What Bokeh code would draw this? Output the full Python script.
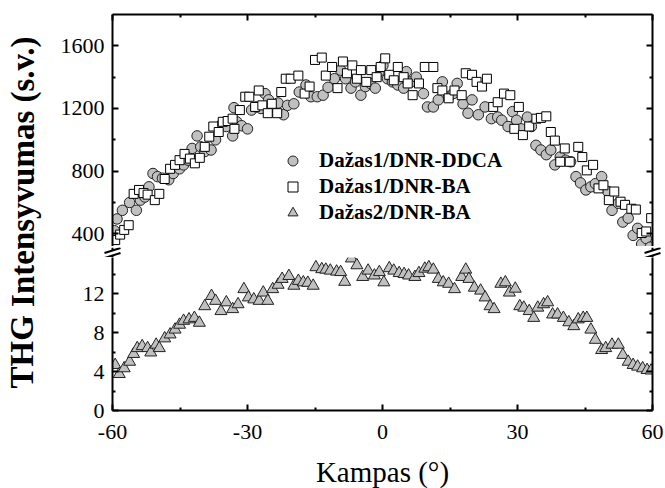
from bokeh.plotting import figure
from bokeh.models import (Range1d, LinearAxis, FixedTicker, Legend, LegendItem,
                          Label, CustomJSTickFormatter)
from bokeh.layouts import row, column
from bokeh.embed import file_html
from bokeh.resources import INLINE

# Dažas1/DNR-DDCA (circles, upper panel)
angle_ddca = [-59.6, -59.0, -57.8, -56.2, -54.7, -53.8, -52.8, -51.9, -51.0, -50.0,
              -48.9, -47.5, -46.5, -45.1, -44.2, -43.2, -42.3, -41.2, -40.4, -39.5,
              -38.1, -37.1, -35.7, -34.7, -33.3, -33.0, -32.4, -31.3, -30.0, -29.1,
              -28.1, -27.0, -26.1, -25.3, -24.4, -23.2, -22.0, -21.1, -19.7, -18.5,
              -17.0, -15.9, -14.5, -13.2, -12.1, -10.7, -9.3, -8.2, -7.0, -6.0,
              -4.8, -3.8, -2.7, -1.6, -0.8, 0.1, 1.1, 2.2, 3.4, 4.7,
              5.3, 6.3, 7.5, 9.1, 10.0, 11.3, 12.4, 13.3, 14.7, 15.7,
              16.6, 17.9, 19.0, 19.9, 21.3, 22.8, 24.2, 25.6, 26.5, 27.9,
              28.9, 29.8, 30.8, 32.2, 33.1, 34.1, 35.2, 36.4, 37.4, 38.3,
              39.5, 40.7, 41.8, 43.0, 44.0, 45.2, 46.3, 47.3, 48.7, 50.1,
              51.0, 52.4, 53.4, 54.6, 55.7, 56.7, 57.6, 58.6, 59.5]
thg_ddca = [420, 495, 550, 600, 550, 615, 635, 700, 785, 765,
            755, 745, 785, 815, 840, 870, 945, 1025, 955, 925,
            935, 1000, 1100, 1085, 1025, 1205, 1115, 1090, 1070, 1190,
            1210, 1200, 1295, 1255, 1210, 1235, 1160, 1220, 1230, 1305,
            1350, 1275, 1275, 1285, 1335, 1390, 1445, 1390, 1330, 1370,
            1285, 1340, 1360, 1330, 1435, 1475, 1390, 1370, 1350, 1330,
            1435, 1370, 1400, 1295, 1210, 1210, 1255, 1370, 1275, 1295,
            1360, 1230, 1170, 1255, 1160, 1210, 1135, 1145, 1125, 1085,
            1180, 1125, 1070, 1145, 1085, 965, 935, 905, 935, 840,
            890, 870, 860, 765, 725, 680, 700, 720, 765, 670,
            550, 595, 475, 500, 390, 435, 335, 370, 315]

# Dažas1/DNR-BA (squares, upper panel)
angle_ba1 = [-59.4, -58.3, -57.4, -56.4, -55.3, -54.1, -53.1, -52.2, -50.6, -49.6,
             -48.4, -47.2, -46.1, -45.1, -44.0, -42.8, -41.7, -40.6, -39.5, -38.5,
             -37.6, -36.4, -35.5, -34.4, -33.3, -32.9, -31.7, -30.5, -29.6, -28.3,
             -27.5, -26.7, -25.5, -24.6, -23.4, -22.5, -21.5, -20.4, -18.7, -17.3,
             -16.2, -15.0, -13.5, -12.6, -11.2, -10.0, -8.8, -7.9, -6.7, -5.7,
             -4.8, -3.6, -2.5, -1.3, -0.4, 0.6, 1.5, 2.5, 3.4, 4.7,
             5.6, 6.7, 8.1, 9.4, 11.3, 12.2, 13.3, 14.7, 16.0, 17.6,
             18.5, 19.9, 20.9, 22.1, 23.2, 24.6, 25.6, 27.0, 28.4, 29.3,
             30.3, 31.2, 32.6, 34.2, 35.2, 36.4, 37.4, 38.3, 39.5, 40.5,
             41.6, 43.5, 44.4, 45.4, 46.8, 48.0, 49.1, 50.3, 51.5, 52.9,
             53.9, 55.3, 56.3, 57.6, 58.6, 59.7]
thg_ba1 = [360, 395, 425, 455, 655, 680, 660, 650, 615, 655,
           750, 815, 840, 870, 910, 880, 850, 885, 955, 1020,
           1085, 1050, 1115, 1120, 1135, 1070, 1190, 1275, 1275, 1210,
           1315, 1220, 1170, 1230, 1170, 1305, 1390, 1390, 1410, 1295,
           1340, 1510, 1525, 1410, 1465, 1330, 1500, 1425, 1475, 1390,
           1445, 1370, 1445, 1400, 1465, 1520, 1415, 1380, 1465, 1400,
           1360, 1285, 1360, 1465, 1465, 1330, 1315, 1265, 1315, 1285,
           1425, 1415, 1370, 1340, 1390, 1210, 1240, 1295, 1285, 1070,
           1210, 1030, 1085, 1135, 1140, 1150, 1050, 995, 860, 945,
           860, 955, 890, 805, 840, 690, 710, 615, 670, 605,
           585, 560, 555, 405, 415, 500]

# Dažas2/DNR-BA (triangles, lower panel)
angle_ba2 = [-59.4, -58.5, -57.4, -56.2, -55.3, -54.5, -53.4, -52.2, -51.5, -50.3,
             -49.6, -48.4, -47.2, -46.1, -45.1, -44.2, -43.0, -41.8, -40.7, -39.5,
             -38.0, -37.1, -35.9, -34.7, -33.3, -32.1, -30.8, -29.8, -28.6, -27.4,
             -26.5, -25.5, -24.4, -23.2, -22.3, -20.8, -19.7, -18.7, -17.6, -16.6,
             -15.4, -14.8, -13.5, -12.6, -11.6, -10.2, -9.3, -8.4, -6.9, -5.7,
             -4.4, -3.2, -1.8, -0.7, 0.3, 1.5, 2.5, 3.7, 4.8, 5.8,
             7.2, 8.1, 9.4, 10.3, 11.3, 12.4, 13.5, 14.7, 16.0, 17.6,
             18.5, 19.2, 20.4, 21.8, 22.8, 23.9, 24.8, 26.3, 27.3, 28.2,
             29.5, 30.5, 31.4, 32.6, 33.6, 34.5, 35.8, 36.7, 37.8, 38.9,
             40.2, 41.4, 42.5, 43.5, 44.6, 45.4, 46.3, 47.3, 48.7, 49.6,
             51.0, 52.4, 53.4, 54.6, 55.7, 56.7, 57.8, 58.8, 59.7]
thg_ba2 = [4.67, 3.74, 4.33, 5.0, 5.8, 6.4, 6.6, 6.4, 5.95, 6.75,
           6.4, 7.4, 7.8, 8.3, 8.8, 9.2, 9.35, 9.5, 9.0, 10.7,
           11.75, 11.25, 10.2, 11.1, 10.4, 10.9, 12.45, 11.6, 11.4, 11.25,
           12.1, 11.25, 12.45, 12.9, 13.5, 13.8, 12.8, 13.3, 13.15, 13.1,
           12.8, 14.7, 14.5, 14.45, 14.35, 14.25, 14.2, 13.2, 15.6, 14.9,
           13.7, 14.35, 13.85, 14.2, 13.15, 14.6, 14.35, 14.1, 14.0, 13.85,
           13.7, 14.1, 14.55, 14.7, 14.45, 13.5, 13.15, 13.0, 12.45, 13.7,
           14.45, 13.5, 12.6, 12.3, 11.6, 10.7, 10.4, 13.0, 13.15, 12.1,
           12.5, 10.7, 10.55, 10.2, 9.5, 10.55, 10.9, 11.1, 9.85, 9.85,
           9.5, 9.05, 8.65, 9.35, 9.5, 9.5, 8.3, 7.25, 6.2, 6.4,
           6.75, 6.75, 5.7, 5.0, 4.67, 4.5, 4.33, 4.15, 4.1]

series_labels = ["Dažas1/DNR-DDCA", "Dažas1/DNR-BA", "Dažas2/DNR-BA"]
x_title = "Kampas (°)"
y_title = "THG Intensyvumas (s.v.)"

x_ticks = [-60, -30, 0, 30, 60]
x_minor = [-45, -15, 15, 45]
upper_ticks = [400, 800, 1200, 1600]
upper_minor = [600, 1000, 1400]
lower_ticks = [0, 4, 8, 12]
lower_minor = [2, 6, 10, 14]

SERIF = "Liberation Serif"
GRAY = "#c0c0c0"
EDGE = "#222222"

FRAME_L, FRAME_W = 62, 540   # frame placement inside the 615 px wide panels


def make_axis(ticks, minor, labels=True, standoff=8):
    ax = LinearAxis(ticker=FixedTicker(ticks=ticks, minor_ticks=minor))
    ax.axis_line_width = 2
    ax.axis_line_color = "black"
    ax.major_tick_in = 6
    ax.major_tick_out = 0
    ax.minor_tick_in = 3
    ax.minor_tick_out = 0
    ax.major_tick_line_width = 2
    ax.minor_tick_line_width = 2
    if labels:
        # plain hyphen-minus for negative ticks
        ax.formatter = CustomJSTickFormatter(code="return tick.toString()")
        ax.major_label_text_font = SERIF
        ax.major_label_text_font_size = "22px"
        ax.major_label_text_color = "black"
        ax.major_label_standoff = standoff
    else:
        ax.formatter = CustomJSTickFormatter(code="return ''")
        ax.major_label_text_font_size = "1px"
        ax.major_label_standoff = 0
    return ax


def blank(width, height):
    # plain canvas strip; its frame is the whole canvas, not aligned to the panels
    f = figure(width=width, height=height, x_range=Range1d(0, width), y_range=Range1d(0, height),
               output_backend="svg", toolbar_location=None,
               x_axis_location=None, y_axis_location=None, frame_align=False,
               min_border_left=0, min_border_right=0, min_border_top=0, min_border_bottom=0)
    f.outline_line_color = None
    f.grid.visible = False
    return f


x_range = Range1d(-60, 60)

# upper panel
up = figure(width=615, height=246, x_range=x_range, y_range=Range1d(319, 1800),
            output_backend="svg", toolbar_location=None,
            x_axis_location=None, y_axis_location=None,
            min_border_left=FRAME_L, min_border_right=13, min_border_top=14, min_border_bottom=0)
up.outline_line_color = None
up.grid.visible = False
up.add_layout(make_axis(upper_ticks, upper_minor), "left")
up.add_layout(make_axis(upper_ticks, upper_minor, labels=False), "right")
up.add_layout(make_axis(x_ticks, x_minor, labels=False), "above")

r_ddca = up.scatter(angle_ddca, thg_ddca, marker="circle", size=10.5,
                    fill_color=GRAY, line_color=EDGE, line_width=1)
r_ba1 = up.scatter(angle_ba1, thg_ba1, marker="square", size=9,
                   fill_color="white", line_color="black", line_width=1)
# off-range stand-in so the triangle series can share the legend above
r_leg_tri = up.scatter([-100], [0], marker="triangle", size=12,
                       fill_color=GRAY, line_color=EDGE, line_width=1)

legend = Legend(items=[LegendItem(label=series_labels[0], renderers=[r_ddca]),
                       LegendItem(label=series_labels[1], renderers=[r_ba1]),
                       LegendItem(label=series_labels[2], renderers=[r_leg_tri])],
                location=(168, 21), padding=0, margin=0, spacing=1,
                glyph_width=25, glyph_height=25, label_standoff=14,
                label_text_font=SERIF, label_text_font_style="bold",
                label_text_font_size="21px", label_text_color="black",
                border_line_color=None, background_fill_alpha=0)
up.add_layout(legend)

# break strip: short axis stubs crossed by slanted "//" marks on both sides
gap = blank(615, 11)
for ax_x in (FRAME_L, FRAME_L + FRAME_W):
    gap.segment(x0=[ax_x, ax_x], y0=[11, 3], x1=[ax_x, ax_x], y1=[8, 0],
                line_color="black", line_width=2)
    gap.segment(x0=[ax_x - 8, ax_x - 8], y0=[5.5, 0.5], x1=[ax_x + 8, ax_x + 8], y1=[10.5, 5.5],
                line_color="black", line_width=2)

# lower panel
lo = figure(width=615, height=197, x_range=x_range, y_range=Range1d(0, 15.7),
            output_backend="svg", toolbar_location=None,
            x_axis_location=None, y_axis_location=None,
            min_border_left=FRAME_L, min_border_right=13, min_border_top=0, min_border_bottom=44)
lo.outline_line_color = None
lo.grid.visible = False
lo.add_layout(make_axis(lower_ticks, lower_minor), "left")
lo.add_layout(make_axis(lower_ticks, lower_minor, labels=False), "right")
lo.add_layout(make_axis(x_ticks, x_minor, standoff=14), "below")

lo.scatter(angle_ba2, thg_ba2, marker="triangle", size=12,
           fill_color=GRAY, line_color=EDGE, line_width=1)

# x-axis title strip
xt = blank(615, 34)
xt.add_layout(Label(x=FRAME_L + FRAME_W / 2, y=17, text=x_title,
                    text_align="center", text_baseline="middle",
                    text_font=SERIF, text_font_size="29px", text_color="black"))

# shared y-axis title strip
yt = blank(50, 488)
yt.add_layout(Label(x=22, y=276, text=y_title, angle=1.5707963,
                    text_align="center", text_baseline="middle",
                    text_font=SERIF, text_font_style="bold", text_font_size="33px",
                    text_color="black"))

layout = row(yt, column(up, gap, lo, xt))
open("out.html", "w").write(file_html(layout, INLINE))
